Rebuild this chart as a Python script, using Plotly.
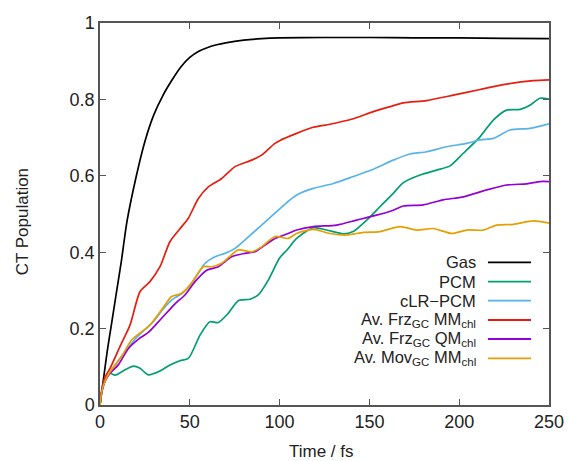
import plotly.graph_objects as go

# ---------------- data ----------------
t_gas = [0, 2, 4, 6, 8, 10, 12, 15, 20, 25, 30, 35, 40, 45, 50, 55, 60, 65, 70, 80, 90, 100, 125, 150, 175, 200, 225, 250]
gas = [0, 0.07, 0.14, 0.20, 0.26, 0.32, 0.38, 0.48, 0.595, 0.69, 0.76, 0.81, 0.85, 0.885, 0.91, 0.926, 0.936, 0.943, 0.948, 0.955, 0.959, 0.961, 0.962, 0.962, 0.961, 0.961, 0.960, 0.959]

t_pcm = [0, 1, 3, 5.6, 8.4, 13.9, 18.6, 22.3, 26.9, 32.5, 39, 44.5, 49.2, 55.7, 61.2, 65.9, 71.4, 77, 83.5, 88.1, 93.7, 100, 104, 109.5, 118.8, 126.2, 135.5, 141, 148.5, 155.9, 163.3, 168.9, 178.2, 187.5, 194.9, 202.3, 211.6, 219, 226.4, 233.9, 239.4, 245, 250]
pcm = [0, 0.035, 0.065, 0.083, 0.078, 0.092, 0.102, 0.096, 0.079, 0.087, 0.105, 0.116, 0.122, 0.183, 0.218, 0.216, 0.24, 0.273, 0.277, 0.288, 0.327, 0.385, 0.405, 0.436, 0.464, 0.458, 0.448, 0.454, 0.484, 0.519, 0.554, 0.582, 0.602, 0.615, 0.626, 0.659, 0.702, 0.746, 0.772, 0.774, 0.785, 0.803, 0.801]

t_clr = [0, 1, 3, 5.6, 10, 15, 20, 25, 30, 35, 40, 45, 50, 54, 58.5, 64, 69.6, 75.2, 82.6, 90, 97.4, 104, 109.5, 118.8, 129.9, 141, 152.2, 163.3, 172.6, 181.9, 193, 204.2, 211.6, 219, 228.3, 239.4, 250]
clr = [0, 0.035, 0.065, 0.085, 0.115, 0.145, 0.175, 0.197, 0.22, 0.25, 0.275, 0.29, 0.312, 0.34, 0.371, 0.388, 0.397, 0.41, 0.44, 0.471, 0.502, 0.53, 0.55, 0.567, 0.58, 0.598, 0.617, 0.641, 0.657, 0.663, 0.676, 0.685, 0.694, 0.698, 0.72, 0.724, 0.736]

t_frzmm = [0, 1, 3, 5.6, 11.1, 16.7, 22.3, 27.8, 33.4, 39, 45.5, 49.2, 54.7, 60.3, 67.8, 75.2, 84.5, 90, 97.4, 100, 109.5, 118.8, 128, 140, 152.2, 161.5, 168.9, 181.9, 196.7, 211.6, 226.4, 241.3, 250]
frzmm = [0, 0.04, 0.075, 0.096, 0.153, 0.209, 0.297, 0.323, 0.362, 0.428, 0.467, 0.489, 0.54, 0.571, 0.593, 0.624, 0.641, 0.654, 0.685, 0.692, 0.711, 0.727, 0.735, 0.748, 0.768, 0.781, 0.791, 0.797, 0.811, 0.826, 0.84, 0.849, 0.851]

t_frzqm = [0, 1, 3, 5.6, 10.2, 15.8, 21.3, 26.9, 34.3, 41.8, 47.3, 52.9, 59.4, 65.9, 73.3, 80.7, 86.3, 91.9, 97.4, 104.8, 109.5, 118.8, 131.8, 142.9, 154, 163.3, 168.9, 180, 191.1, 202.3, 215.3, 226.4, 237.6, 245, 250]
frzqm = [0, 0.035, 0.065, 0.083, 0.105, 0.148, 0.172, 0.19, 0.227, 0.265, 0.288, 0.323, 0.353, 0.362, 0.388, 0.397, 0.401, 0.419, 0.436, 0.449, 0.458, 0.467, 0.471, 0.484, 0.497, 0.51, 0.521, 0.524, 0.537, 0.545, 0.563, 0.576, 0.579, 0.585, 0.585]

t_movmm = [0, 1, 3, 5.6, 12, 17.6, 23.2, 27.8, 34.3, 39.9, 45.5, 51, 57.5, 62.2, 67.8, 77, 84.5, 90, 97.4, 104.8, 109.5, 118.8, 128, 137.4, 146.6, 155.9, 167, 176.3, 185.6, 195.8, 204.2, 213.4, 220.9, 230.1, 241.3, 250]
movmm = [0, 0.035, 0.065, 0.087, 0.127, 0.17, 0.192, 0.209, 0.249, 0.284, 0.292, 0.319, 0.362, 0.362, 0.371, 0.406, 0.401, 0.414, 0.441, 0.436, 0.449, 0.46, 0.449, 0.445, 0.452, 0.454, 0.467, 0.458, 0.462, 0.449, 0.458, 0.458, 0.471, 0.473, 0.482, 0.476]

labels = ["Gas", "PCM", "cLR\u2212PCM",
          "Av. Frz<sub>GC</sub> MM<sub>chl</sub>",
          "Av. Frz<sub>GC</sub> QM<sub>chl</sub>",
          "Av. Mov<sub>GC</sub> MM<sub>chl</sub>"]
x_ticks = [0, 50, 100, 150, 200, 250]
y_ticks = [0, 0.2, 0.4, 0.6, 0.8, 1]
y_ticktext = ["0", "0.2", "0.4", "0.6", "0.8", "1"]

# ---------------- styling ----------------
colors = ["#000000", "#009e73", "#56b4e9", "#e51e10", "#9400d3", "#e69f00"]
FONT = "Liberation Sans, Arial, sans-serif"
AX = "#555555"

series = [(t_gas, gas), (t_pcm, pcm), (t_clr, clr), (t_frzmm, frzmm), (t_frzqm, frzqm), (t_movmm, movmm)]

fig = go.Figure()
for (tx, ty), col, lab in zip(series, colors, labels):
    fig.add_trace(go.Scatter(x=tx, y=ty, mode="lines", name=lab,
                             line=dict(color=col, width=1.7, shape="spline", smoothing=0.7),
                             showlegend=False))

# custom gnuplot-style legend (text right-aligned, sample line to the right)
row_y = [0.3736, 0.3228, 0.2731, 0.2225, 0.1728, 0.1222]
for lab, col, yy in zip(labels, colors, row_y):
    fig.add_annotation(x=0.842, y=yy, xref="paper", yref="paper", text=lab,
                       showarrow=False, xanchor="right", yanchor="middle", align="right",
                       font=dict(family=FONT, size=16.5, color="#222222"))
    fig.add_shape(type="line", xref="paper", yref="paper", x0=0.864, x1=0.96, y0=yy, y1=yy,
                  line=dict(color=col, width=1.8))

# axis titles
fig.add_annotation(x=-0.173, y=0.479, xref="paper", yref="paper", text="CT Population",
                   textangle=-90, showarrow=False, xanchor="center", yanchor="middle",
                   font=dict(family=FONT, size=17, color="#222222"))
fig.add_annotation(x=0.494, y=-0.122, xref="paper", yref="paper", text="Time / fs",
                   showarrow=False, xanchor="center", yanchor="middle",
                   font=dict(family=FONT, size=17, color="#222222"))

fig.update_xaxes(range=[0, 250], tickvals=x_ticks, ticks="inside", ticklen=6, tickwidth=1.3,
                 tickcolor=AX, showline=True, linecolor=AX, linewidth=1.5, mirror="ticks",
                 showgrid=False, zeroline=False, automargin=False,
                 tickfont=dict(family=FONT, size=18, color="#222222"))
fig.update_yaxes(range=[0, 1], tickvals=y_ticks, ticktext=y_ticktext, ticks="inside", ticklen=6,
                 tickwidth=1.3, tickcolor=AX, showline=True, linecolor=AX, linewidth=1.5,
                 mirror="ticks", showgrid=False, zeroline=False, automargin=False,
                 tickfont=dict(family=FONT, size=18, color="#222222"))

fig.update_layout(width=569, height=461, margin=dict(l=100, r=20, t=23, b=56, autoexpand=False),
                  plot_bgcolor="white", paper_bgcolor="white", showlegend=False)

fig.write_html("out.html", config={"displayModeBar": False},
               post_script="document.body.style.margin='0px';document.body.style.overflow='hidden';")
